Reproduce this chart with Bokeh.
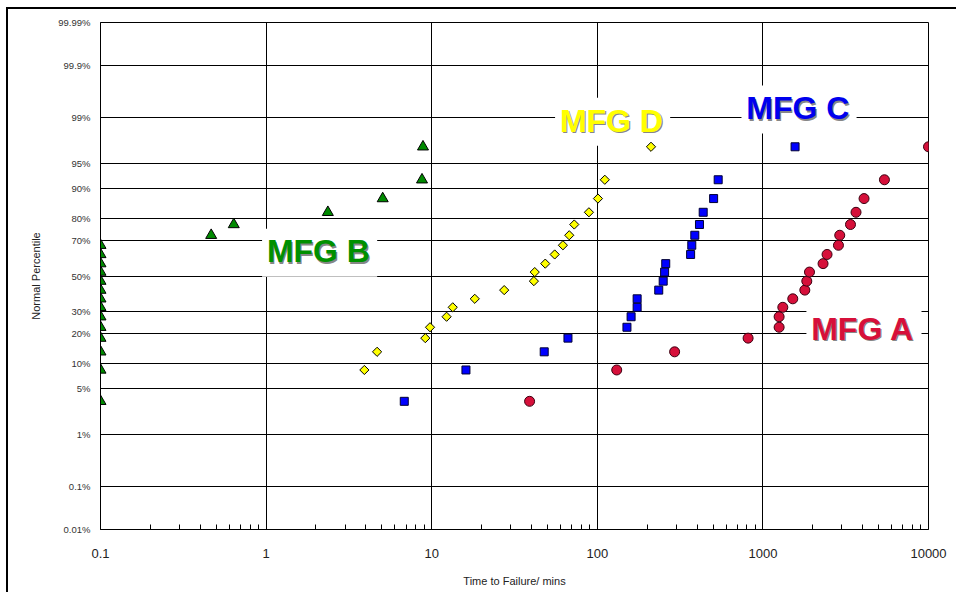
import math
from statistics import NormalDist
from bokeh.plotting import figure
from bokeh.models import FixedTicker, Label, CustomJSTickFormatter, Range1d
from bokeh.embed import file_html
from bokeh.resources import INLINE

# ---------------- data ----------------
mfg_a_time = [39, 131, 293, 814, 1253, 1253, 1319, 1515, 1791, 1841,
              1911, 2308, 2440, 2859, 2911, 3380, 3650, 4081, 5418, 10000]
mfg_a_pct = [3.3, 8.4, 13.3, 18.1, 22.6, 27.5, 32.3, 36.9, 41.8, 47.0,
             52.3, 57.2, 62.4, 67.4, 72.5, 77.5, 82.5, 87.2, 92.1, 97.1]

mfg_b_time = [0.1, 0.1, 0.1, 0.1, 0.1, 0.1, 0.1, 0.1, 0.1, 0.1,
              0.1, 0.1, 0.1, 0.1, 0.466, 0.638, 2.36, 5.06, 8.74, 8.86]
mfg_b_pct = [3.3, 8.4, 13.3, 18.1, 22.6, 27.5, 32.3, 36.9, 41.8, 47.0,
             52.3, 57.2, 62.4, 67.4, 72.5, 77.5, 82.5, 87.2, 92.1, 97.1]

mfg_c_time = [6.83, 16.1, 47.8, 66.5, 151, 160, 174, 174, 235, 250,
              255, 259, 366, 372, 388, 414, 436, 504, 537, 1564]
mfg_c_pct = [3.3, 8.4, 13.3, 18.1, 22.6, 27.5, 32.3, 36.9, 41.8, 47.0,
             52.3, 57.2, 62.4, 67.4, 72.5, 77.5, 82.5, 87.2, 92.1, 97.1]

mfg_d_time = [3.92, 4.68, 9.15, 9.77, 12.3, 13.4, 18.2, 27.4, 41.4,
              41.9, 48.5, 55.3, 62.0, 67.7, 72.6, 89.0, 100.9, 111, 211]
mfg_d_pct = [8.4, 13.3, 18.1, 22.6, 27.5, 32.3, 36.9, 41.8, 47.0,
             52.3, 57.2, 62.4, 67.4, 72.5, 77.5, 82.5, 87.2, 92.1, 97.1]

y_tick_pct = [0.01, 0.1, 1, 5, 10, 20, 30, 50, 70, 80, 90, 95, 99, 99.9, 99.99]
y_tick_labels = ["0.01%", "0.1%", "1%", "5%", "10%", "20%", "30%", "50%",
                 "70%", "80%", "90%", "95%", "99%", "99.9%", "99.99%"]
x_ticks = [0.1, 1, 10, 100, 1000, 10000]

# ---------------- normal-probability transform ----------------
nd = NormalDist()
def probit(vals):
    return [nd.inv_cdf(v / 100.0) for v in vals]

y_ticks = probit(y_tick_pct)
zmin, zmax = y_ticks[0], y_ticks[-1]

FONT = "Liberation Sans"

p = figure(width=950, height=585, x_axis_type="log",
           x_range=Range1d(0.1, 10000), y_range=Range1d(zmin, zmax),
           output_backend="svg", toolbar_location=None,
           min_border_left=92, min_border_right=30,
           min_border_top=13, min_border_bottom=65,
           background_fill_color="white", border_fill_color="white")
p.styles = {"border-left": "2px solid black", "border-top": "2px solid black",
            "margin-left": "6px", "margin-top": "7px"}
p.outline_line_color = "black"
p.outline_line_width = 1

# x axis
minor = [d * k for d in x_ticks[:-1] for k in range(2, 10)]
xt = FixedTicker(ticks=x_ticks, minor_ticks=minor)
p.xaxis.ticker = xt
p.xgrid.ticker = xt
p.xaxis.formatter = CustomJSTickFormatter(code="return String(tick)")
p.xaxis.major_tick_in = 0
p.xaxis.major_tick_out = 0
p.xaxis.minor_tick_in = 5
p.xaxis.minor_tick_out = 0
p.xaxis.minor_tick_line_color = "black"
p.xaxis.axis_line_color = "black"
p.xaxis.major_label_standoff = 19
p.xaxis.major_label_text_font = FONT
p.xaxis.major_label_text_font_size = "13px"
p.xaxis.major_label_text_color = "#222222"
p.xaxis.axis_label = "Time to Failure/ mins"
p.xaxis.axis_label_text_font = FONT
p.xaxis.axis_label_text_font_size = "11px"
p.xaxis.axis_label_text_font_style = "normal"
p.xaxis.axis_label_text_color = "#222222"
p.xaxis.axis_label_standoff = 14

# y axis
yt = FixedTicker(ticks=y_ticks, minor_ticks=[])
p.yaxis.ticker = yt
p.ygrid.ticker = yt
p.yaxis.major_label_overrides = {z: lab for z, lab in zip(y_ticks, y_tick_labels)}
p.yaxis.major_tick_in = 0
p.yaxis.major_tick_out = 0
p.yaxis.minor_tick_in = 0
p.yaxis.minor_tick_out = 0
p.yaxis.axis_line_color = "black"
p.yaxis.major_label_standoff = 10
p.yaxis.major_label_text_font = FONT
p.yaxis.major_label_text_font_size = "9.5px"
p.yaxis.major_label_text_color = "#333333"
p.yaxis.axis_label = "Normal Percentile"
p.yaxis.axis_label_text_font = FONT
p.yaxis.axis_label_text_font_size = "11px"
p.yaxis.axis_label_text_font_style = "normal"
p.yaxis.axis_label_text_color = "#222222"
p.yaxis.axis_label_standoff = 13

for g in (p.xgrid, p.ygrid):
    g.grid_line_color = "black"
    g.grid_line_alpha = 1.0
    g.grid_line_width = 1

# ---------------- points ----------------
p.scatter(mfg_b_time, probit(mfg_b_pct), marker="triangle", size=11,
          fill_color="#008a00", line_color="black", line_width=1)
p.scatter(mfg_d_time, probit(mfg_d_pct), marker="square", angle=math.pi / 4,
          size=6.5, fill_color="#ffff00", line_color="black", line_width=1)
p.scatter(mfg_c_time, probit(mfg_c_pct), marker="square", size=8,
          fill_color="#0000ff", line_color="#000033", line_width=1)
p.scatter(mfg_a_time, probit(mfg_a_pct), marker="circle", size=10,
          fill_color="#d6103a", line_color="#3a0010", line_width=1)

# ---------------- series labels (boxes hide the grid, markers stay on top) ----------------
def add_label(text, x, z, color):
    common = dict(x=x, y=z, text=text, text_font=FONT, text_font_style="bold",
                  text_font_size="32px", text_align="center",
                  text_baseline="middle", level="underlay")
    p.add_layout(Label(**common, text_color="#666666", text_alpha=0.8,
                       x_offset=1.2, y_offset=-1.2,
                       background_fill_color="white", padding=6))
    p.add_layout(Label(**common, text_color=color))

add_label("MFG B", 2.07, 0.36, "#009000")
add_label("MFG D", 121.7, 2.28, "#ffff00")
add_label("MFG C", 1625, 2.46, "#0000ee")
add_label("MFG A", 4009, -0.775, "#d6103a")

open("out.html", "w").write(file_html(p, INLINE))
